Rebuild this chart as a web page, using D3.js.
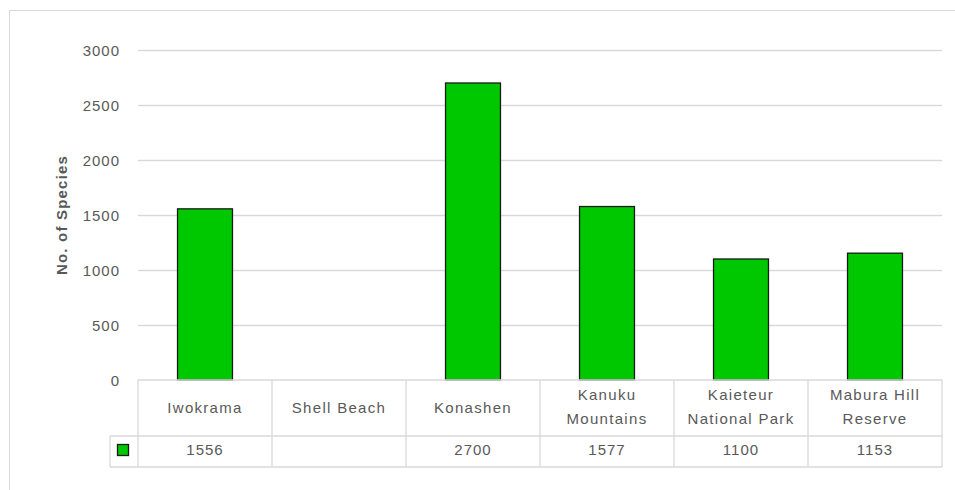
<!DOCTYPE html>
<html><head><meta charset="utf-8">
<script src="https://cdn.jsdelivr.net/npm/d3@7"></script>
<style>body{margin:0;background:#fff}svg{display:block}text{font-family:"Liberation Sans",Arial,sans-serif;fill:#595959}</style>
</head><body>
<script>
const categories = ["Iwokrama","Shell Beach","Konashen","Kanuku Mountains","Kaieteur National Park","Mabura Hill Reserve"];
const labelLines = [["Iwokrama"],["Shell Beach"],["Konashen"],["Kanuku","Mountains"],["Kaieteur","National Park"],["Mabura Hill","Reserve"]];
const values = [1556, null, 2700, 1577, 1100, 1153];
const yTicks = [0,500,1000,1500,2000,2500,3000];
const yTitle = "No. of Species";

const W=955,H=490;
const svg=d3.select("body").append("svg").attr("width",W).attr("height",H);
const grid="#d9d9d9";
svg.append("rect").attr("x",9.5).attr("y",10.5).attr("width",1000).attr("height",1000).attr("fill","none").attr("stroke",grid);

const pLeft=138,pRight=942,pTop=50,pBase=380;
const x=d3.scaleBand().domain(categories).range([pLeft,pRight]).paddingInner(0.59).paddingOuter(0.295);
const xc=d3.scaleBand().domain(categories).range([pLeft,pRight]).padding(0);
const y=d3.scaleLinear().domain([0,3000]).range([pBase,pTop]);

// gridlines
svg.append("g").selectAll("line").data(yTicks.filter(t=>t>0)).join("line")
  .attr("x1",pLeft).attr("x2",pRight).attr("y1",d=>Math.round(y(d))+0.5).attr("y2",d=>Math.round(y(d))+0.5)
  .attr("stroke",grid).attr("stroke-width",1.3);

// y axis labels
const yAxis=d3.axisLeft(y).tickValues(yTicks).tickFormat(d3.format("d")).tickSize(0).tickPadding(0);
const ga=svg.append("g").attr("transform",`translate(120,0)`).call(yAxis);
ga.select(".domain").remove();
ga.selectAll("text").style("font-size","15px").style("letter-spacing","1px").attr("fill","#595959").attr("dy","0.35em").style("font-family",'"Liberation Sans",Arial,sans-serif');

// title
svg.append("text").attr("transform","translate(67,215) rotate(-90)").attr("text-anchor","middle")
  .style("font-size","15px").style("font-weight","bold").style("letter-spacing","1.2px").text(yTitle);

// bars
svg.append("g").selectAll("rect").data(categories.map((c,i)=>({c,v:values[i]})).filter(d=>d.v!=null)).join("rect")
  .attr("x",d=>x(d.c)).attr("width",x.bandwidth()).attr("y",d=>y(d.v)).attr("height",d=>pBase-y(d.v))
  .attr("fill","#00c800").attr("stroke","#1a1a1a").attr("stroke-width",1.3);

// table
const rowMid=436,rowBot=467,keyLeft=110;
const tg=svg.append("g").attr("stroke",grid).attr("stroke-width",1.3);
tg.append("line").attr("x1",pLeft).attr("x2",pRight).attr("y1",pBase).attr("y2",pBase);
tg.append("line").attr("x1",keyLeft).attr("x2",pRight).attr("y1",rowMid).attr("y2",rowMid);
tg.append("line").attr("x1",keyLeft).attr("x2",pRight).attr("y1",rowBot).attr("y2",rowBot);
tg.append("line").attr("x1",keyLeft).attr("x2",keyLeft).attr("y1",rowMid).attr("y2",rowBot);
const bounds=categories.map(c=>xc(c)).concat([pRight]);
tg.selectAll("line.v").data(bounds).join("line").attr("class","v")
  .attr("x1",d=>d).attr("x2",d=>d).attr("y1",pBase).attr("y2",rowBot);

// category labels
categories.forEach((c,i)=>{
  const cx=xc(c)+xc.bandwidth()/2;
  const lines=labelLines[i];
  const t=svg.append("text").attr("text-anchor","middle").style("font-size","15px").style("letter-spacing","1.3px");
  lines.forEach((l,j)=>{
    const cy = lines.length===1 ? 408 : 395 + j*24;
    t.append("tspan").attr("x",cx).attr("y",cy).attr("dy","0.35em").text(l);
  });
  if(values[i]!=null){
    svg.append("text").attr("x",cx).attr("y",450).attr("dy","0.35em").attr("text-anchor","middle")
      .style("font-size","15px").style("letter-spacing","1px").text(values[i]);
  }
});

// legend key
svg.append("rect").attr("x",117.5).attr("y",444.5).attr("width",11).attr("height",11)
  .attr("fill","#00c800").attr("stroke","#1a1a1a").attr("stroke-width",1.3);
</script>
</body></html>
